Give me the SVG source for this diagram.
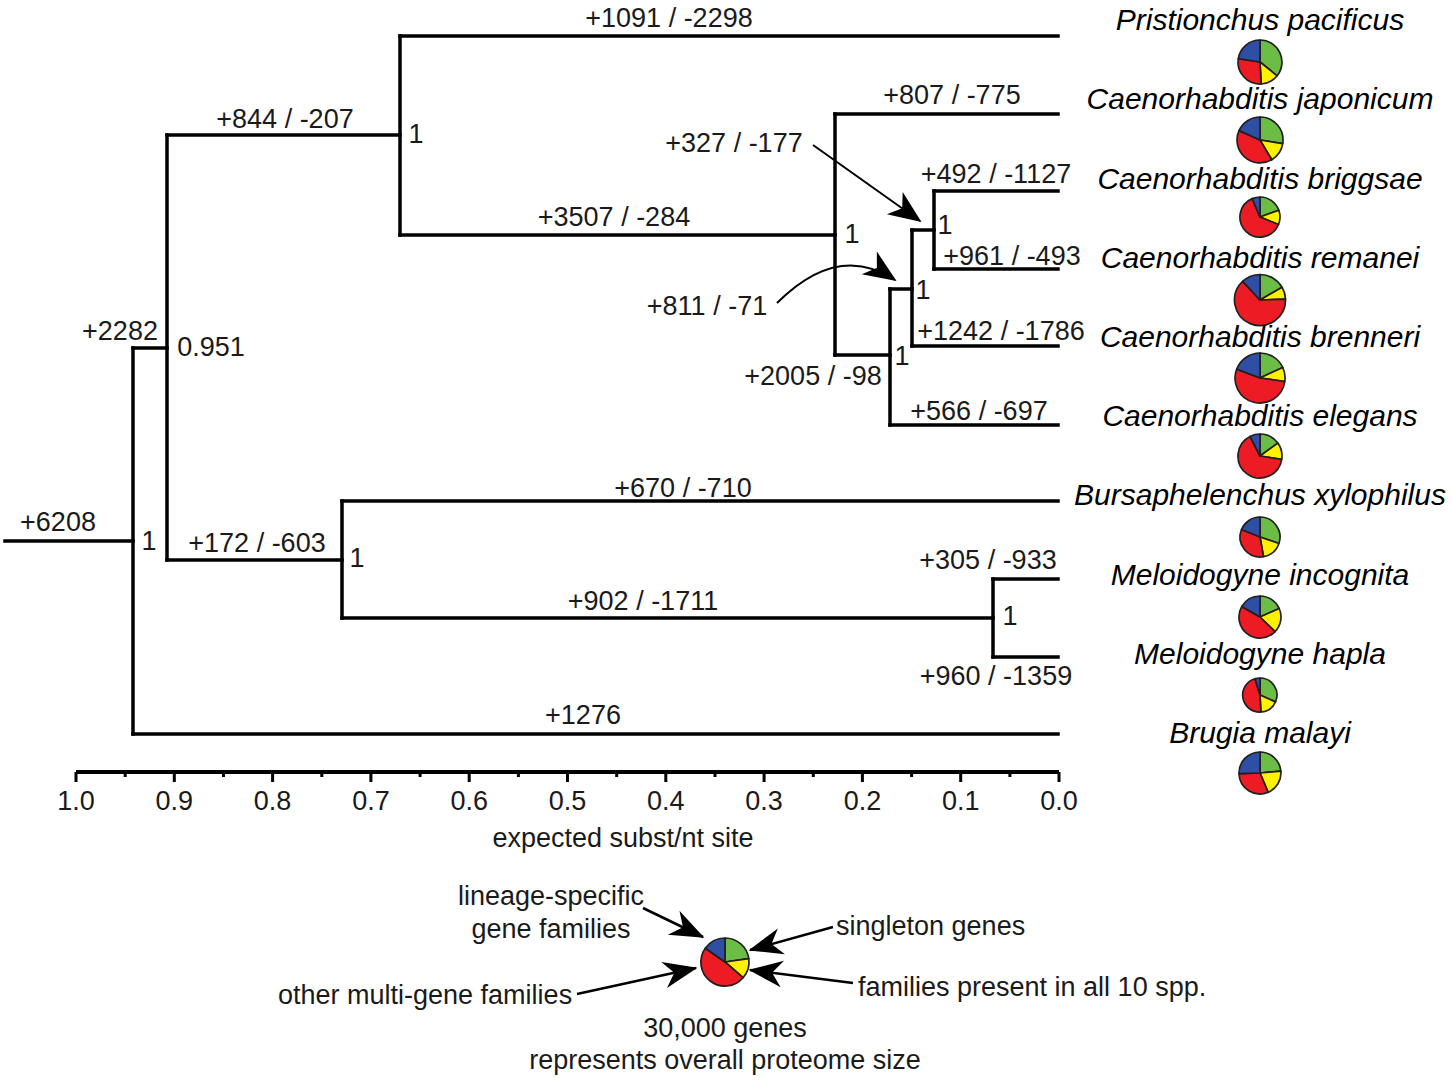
<svg xmlns="http://www.w3.org/2000/svg" width="1451" height="1080" viewBox="0 0 1451 1080">
<style>
text{font-family:"Liberation Sans",Arial,sans-serif;font-size:27px;fill:#1a1a1a}
.sp{font-style:italic;font-size:30px;text-anchor:middle;fill:#000}
.m{text-anchor:middle}
.br{fill:none;stroke:#000;stroke-width:3.5;stroke-linecap:square}
.ar{fill:none;stroke:#000;stroke-width:2}
.lg{fill:none;stroke:#000;stroke-width:2.5}
.g{fill:#6cbd45;stroke:#231f20;stroke-width:1.7;stroke-linejoin:round}
.y{fill:#fff200;stroke:#231f20;stroke-width:1.7;stroke-linejoin:round}
.r{fill:#ed1c24;stroke:#231f20;stroke-width:1.7;stroke-linejoin:round}
.b{fill:#2e4fa3;stroke:#231f20;stroke-width:1.7;stroke-linejoin:round}
.ax{fill:none;stroke:#000;stroke-width:4}
.tk{stroke:#000;stroke-width:3}
</style>
<defs>
<marker id="ah" markerUnits="userSpaceOnUse" markerWidth="40" markerHeight="40" viewBox="-20 -10 22 20" refX="0" refY="0" orient="auto" overflow="visible">
<path d="M1,0 L-17,-7.5 L-12,0 L-17,7.5 Z" fill="#000"/>
</marker>
<marker id="ahl" markerUnits="userSpaceOnUse" markerWidth="40" markerHeight="40" viewBox="-25 -12 27 24" refX="0" refY="0" orient="auto" overflow="visible">
<path d="M1,0 L-22,-9 L-15,0 L-22,9 Z" fill="#000"/>
</marker>
</defs>
<rect width="1451" height="1080" fill="#fff"/>

<g id="connectors">
<path class="br" d="M133,348V734 M167,135V560 M400,36V235 M835,114V355 M890,289V425 M912,230V346 M934,191V269 M342,501V618 M993,579V657"/>
<path class="br" d="M5,541H133 M133,348H167 M167,135H400 M400,36H1058 M400,235H835 M835,114H1058 M835,355H890 M890,289H912 M912,230H934 M934,191H1058 M934,269H1058 M912,346H1058 M890,425H1058 M167,560H342 M342,501H1058 M342,618H993 M993,579H1058 M993,657H1058 M133,734H1058"/>
<path class="ar" d="M813,145 L920,221" marker-end="url(#ah)"/>
<path class="ar" d="M777,303 C810,270 850,250 895,280" marker-end="url(#ah)"/>
<g id="branch-labels">
<text class="m" x="669" y="27">+1091 / -2298</text>
<text class="m" x="285" y="128">+844 / -207</text>
<text class="m" x="952" y="104">+807 / -775</text>
<text class="m" x="734" y="152">+327 / -177</text>
<text class="m" x="614" y="226">+3507 / -284</text>
<text class="m" x="996" y="183">+492 / -1127</text>
<text class="m" x="1012" y="265">+961 / -493</text>
<text class="m" x="707" y="315">+811 / -71</text>
<text class="m" x="1001" y="340">+1242 / -1786</text>
<text class="m" x="120" y="340">+2282</text>
<text class="m" x="813" y="385">+2005 / -98</text>
<text class="m" x="979" y="420">+566 / -697</text>
<text class="m" x="683" y="497">+670 / -710</text>
<text class="m" x="58" y="531">+6208</text>
<text class="m" x="257" y="552">+172 / -603</text>
<text class="m" x="988" y="569">+305 / -933</text>
<text class="m" x="643" y="610">+902 / -1711</text>
<text class="m" x="996" y="685">+960 / -1359</text>
<text class="m" x="583" y="724">+1276</text>
</g>
</g>

<g id="support-values">
<g id="n-root"><text class="m" x="149" y="550">1</text></g>
<g id="n-ingroup"><text class="m" x="211" y="356">0.951</text></g>
<g id="n-rhabditina"><text class="m" x="416" y="143">1</text></g>
<g id="n-caeno"><text class="m" x="852" y="243">1</text></g>
<g id="n-elegansgrp"><text class="m" x="902" y="365">1</text></g>
<g id="n-brigg-rem-bren"><text class="m" x="923" y="299">1</text></g>
<g id="n-brigg-rem"><text class="m" x="945" y="234">1</text></g>
<g id="n-tylenchina"><text class="m" x="357" y="567">1</text></g>
<g id="n-meloidogyne"><text class="m" x="1010" y="625">1</text></g>
</g>

<g id="sp-pristionchus">
<text class="sp" x="1260" y="30">Pristionchus pacificus</text>
<path class="g" d="M1260,62 L1260,40 A22,22 0 0 1 1277.1,75.8 Z"/>
<path class="y" d="M1260,62 L1277.1,75.8 A22,22 0 0 1 1261.2,84 Z"/>
<path class="r" d="M1260,62 L1261.2,84 A22,22 0 0 1 1238.3,58.6 Z"/>
<path class="b" d="M1260,62 L1238.3,58.6 A22,22 0 0 1 1260,40 Z"/>
</g>
<g id="sp-japonicum">
<text class="sp" x="1260" y="109">Caenorhabditis japonicum</text>
<path class="g" d="M1260,140 L1260,117 A23,23 0 0 1 1282.7,143.6 Z"/>
<path class="y" d="M1260,140 L1282.7,143.6 A23,23 0 0 1 1271.8,159.7 Z"/>
<path class="r" d="M1260,140 L1271.8,159.7 A23,23 0 0 1 1239,130.6 Z"/>
<path class="b" d="M1260,140 L1239,130.6 A23,23 0 0 1 1260,117 Z"/>
</g>
<g id="sp-briggsae">
<text class="sp" x="1260" y="189">Caenorhabditis briggsae</text>
<path class="g" d="M1260,217 L1260,197 A20,20 0 0 1 1278.8,210.2 Z"/>
<path class="y" d="M1260,217 L1278.8,210.2 A20,20 0 0 1 1278.5,224.5 Z"/>
<path class="r" d="M1260,217 L1278.5,224.5 A20,20 0 1 1 1252.2,198.6 Z"/>
<path class="b" d="M1260,217 L1252.2,198.6 A20,20 0 0 1 1260,197 Z"/>
</g>
<g id="sp-remanei">
<text class="sp" x="1260" y="268">Caenorhabditis remanei</text>
<path class="g" d="M1260,300 L1260,274.5 A25.5,25.5 0 0 1 1282.1,287.3 Z"/>
<path class="y" d="M1260,300 L1282.1,287.3 A25.5,25.5 0 0 1 1285.5,299.1 Z"/>
<path class="r" d="M1260,300 L1285.5,299.1 A25.5,25.5 0 1 1 1242.6,281.4 Z"/>
<path class="b" d="M1260,300 L1242.6,281.4 A25.5,25.5 0 0 1 1260,274.5 Z"/>
</g>
<g id="sp-brenneri">
<text class="sp" x="1260" y="347">Caenorhabditis brenneri</text>
<path class="g" d="M1260,378 L1260,353 A25,25 0 0 1 1282.7,367.4 Z"/>
<path class="y" d="M1260,378 L1282.7,367.4 A25,25 0 0 1 1284.8,381.5 Z"/>
<path class="r" d="M1260,378 L1284.8,381.5 A25,25 0 1 1 1236.7,369.1 Z"/>
<path class="b" d="M1260,378 L1236.7,369.1 A25,25 0 0 1 1260,353 Z"/>
</g>
<g id="sp-elegans">
<text class="sp" x="1260" y="426">Caenorhabditis elegans</text>
<path class="g" d="M1260,456 L1260,434 A22,22 0 0 1 1277.8,443.1 Z"/>
<path class="y" d="M1260,456 L1277.8,443.1 A22,22 0 0 1 1281.7,459.4 Z"/>
<path class="r" d="M1260,456 L1281.7,459.4 A22,22 0 1 1 1250,436.4 Z"/>
<path class="b" d="M1260,456 L1250,436.4 A22,22 0 0 1 1260,434 Z"/>
</g>
<g id="sp-bursaphelenchus">
<text class="sp" x="1260" y="505">Bursaphelenchus xylophilus</text>
<path class="g" d="M1260,537 L1260,517 A20,20 0 0 1 1278.9,543.5 Z"/>
<path class="y" d="M1260,537 L1278.9,543.5 A20,20 0 0 1 1263.5,556.7 Z"/>
<path class="r" d="M1260,537 L1263.5,556.7 A20,20 0 0 1 1241.5,529.5 Z"/>
<path class="b" d="M1260,537 L1241.5,529.5 A20,20 0 0 1 1260,517 Z"/>
</g>
<g id="sp-incognita">
<text class="sp" x="1260" y="585">Meloidogyne incognita</text>
<path class="g" d="M1260,617 L1260,596 A21,21 0 0 1 1279.2,608.5 Z"/>
<path class="y" d="M1260,617 L1279.2,608.5 A21,21 0 0 1 1275.1,631.6 Z"/>
<path class="r" d="M1260,617 L1275.1,631.6 A21,21 0 0 1 1241.8,606.5 Z"/>
<path class="b" d="M1260,617 L1241.8,606.5 A21,21 0 0 1 1260,596 Z"/>
</g>
<g id="sp-hapla">
<text class="sp" x="1260" y="664">Meloidogyne hapla</text>
<path class="g" d="M1260,695 L1260,678 A17,17 0 0 1 1275.5,701.9 Z"/>
<path class="y" d="M1260,695 L1275.5,701.9 A17,17 0 0 1 1260.9,712 Z"/>
<path class="r" d="M1260,695 L1260.9,712 A17,17 0 0 1 1255,678.7 Z"/>
<path class="b" d="M1260,695 L1255,678.7 A17,17 0 0 1 1260,678 Z"/>
</g>
<g id="sp-brugia">
<text class="sp" x="1260" y="743">Brugia malayi</text>
<path class="g" d="M1260,773 L1260,752 A21,21 0 0 1 1280.9,771.2 Z"/>
<path class="y" d="M1260,773 L1280.9,771.2 A21,21 0 0 1 1268.2,792.3 Z"/>
<path class="r" d="M1260,773 L1268.2,792.3 A21,21 0 0 1 1239,773.7 Z"/>
<path class="b" d="M1260,773 L1239,773.7 A21,21 0 0 1 1260,752 Z"/>
</g>

<g id="axis">
<path class="ax" d="M76,772H1059"/>
<path class="tk" d="M76,772V782 M174.3,772V782 M272.6,772V782 M370.9,772V782 M469.2,772V782 M567.5,772V782 M665.8,772V782 M764.1,772V782 M862.4,772V782 M960.7,772V782 M1059,772V782"/>
<path class="tk" d="M125.2,772V777 M223.5,772V777 M321.8,772V777 M420.1,772V777 M518.4,772V777 M616.7,772V777 M715,772V777 M813.3,772V777 M911.6,772V777 M1009.9,772V777"/>
<text class="m" x="76" y="810">1.0</text>
<text class="m" x="174.3" y="810">0.9</text>
<text class="m" x="272.6" y="810">0.8</text>
<text class="m" x="370.9" y="810">0.7</text>
<text class="m" x="469.2" y="810">0.6</text>
<text class="m" x="567.5" y="810">0.5</text>
<text class="m" x="665.8" y="810">0.4</text>
<text class="m" x="764.1" y="810">0.3</text>
<text class="m" x="862.4" y="810">0.2</text>
<text class="m" x="960.7" y="810">0.1</text>
<text class="m" x="1059" y="810">0.0</text>
<text class="m" x="623" y="847">expected subst/nt site</text>
</g>

<g id="legend">
<path class="g" d="M725,962 L725,938 A24,24 0 0 1 748.8,958.7 Z"/>
<path class="y" d="M725,962 L748.8,958.7 A24,24 0 0 1 743.1,977.7 Z"/>
<path class="r" d="M725,962 L743.1,977.7 A24,24 0 0 1 705.3,948.2 Z"/>
<path class="b" d="M725,962 L705.3,948.2 A24,24 0 0 1 725,938 Z"/>
<path class="lg" d="M643,908 L703,937" marker-end="url(#ahl)"/>
<path class="lg" d="M833,927 L750,950" marker-end="url(#ahl)"/>
<path class="lg" d="M853,983 L750,970" marker-end="url(#ahl)"/>
<path class="lg" d="M577,994 L696,968" marker-end="url(#ahl)"/>
<text class="m" x="551" y="905">lineage-specific</text>
<text class="m" x="551" y="938">gene families</text>
<text x="836" y="935">singleton genes</text>
<text x="858" y="996">families present in all 10 spp.</text>
<text x="278" y="1004">other multi-gene families</text>
<text class="m" x="725" y="1037">30,000 genes</text>
<text class="m" x="725" y="1069">represents overall proteome size</text>
</g>
</svg>
